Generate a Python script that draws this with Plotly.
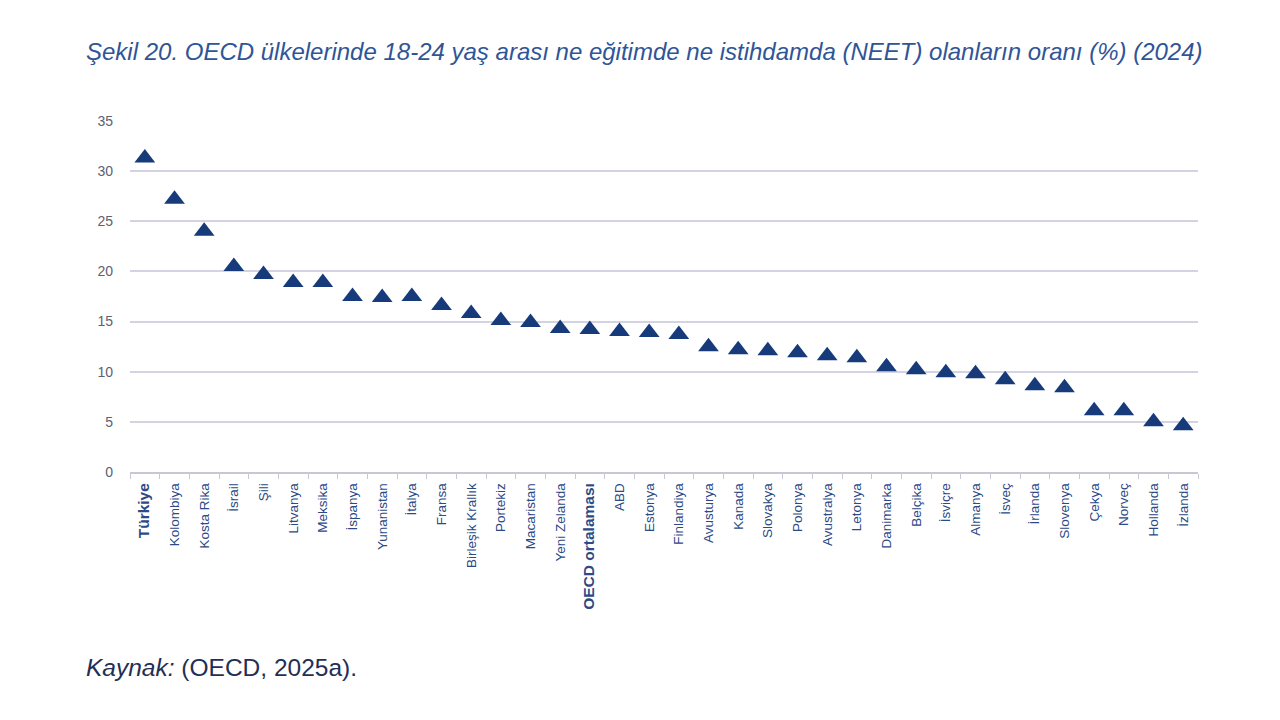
import plotly.graph_objects as go

countries = ["Türkiye", "Kolombiya", "Kosta Rika", "İsrail", "Şili", "Litvanya", "Meksika",
             "İspanya", "Yunanistan", "İtalya", "Fransa", "Birleşik Krallık", "Portekiz",
             "Macaristan", "Yeni Zelanda", "OECD ortalaması", "ABD", "Estonya", "Finlandiya",
             "Avusturya", "Kanada", "Slovakya", "Polonya", "Avustralya", "Letonya", "Danimarka",
             "Belçika", "İsviçre", "Almanya", "İsveç", "İrlanda", "Slovenya", "Çekya", "Norveç",
             "Hollanda", "İzlanda"]
neet = [31.3, 27.2, 24.0, 20.5, 19.7, 18.9, 18.9,
        17.5, 17.4, 17.5, 16.6, 15.8, 15.1,
        14.9, 14.3, 14.2, 14.0, 13.9, 13.7,
        12.5, 12.2, 12.1, 11.9, 11.6, 11.4, 10.5,
        10.2, 9.9, 9.8, 9.2, 8.6, 8.4, 6.1, 6.1,
        5.0, 4.6]
bold_labels = ["Türkiye", "OECD ortalaması"]
y_ticks = [0, 5, 10, 15, 20, 25, 30, 35]

tick_text = [f"<span style='font-size:15.5px'><b>{c}</b></span>" if c in bold_labels else c
             for c in countries]

fig = go.Figure()
fig.add_trace(go.Scatter(
    x=countries, y=neet, mode="markers",
    marker=dict(symbol="triangle-up", size=18, color="#173b7a"),
    showlegend=False, hoverinfo="x+y",
))

label_font = "Liberation Sans, Arial, sans-serif"

fig.update_layout(
    width=1280, height=720,
    paper_bgcolor="white", plot_bgcolor="white",
    margin=dict(l=122, r=90, t=113, b=256),
    font=dict(family="Liberation Sans, Arial, sans-serif"),
    xaxis=dict(
        type="category",
        tickmode="array", tickvals=countries, ticktext=tick_text,
        tickangle=-90,
        tickfont=dict(family=label_font, size=13.5, color="#2b4a86"),
        showline=True, linecolor="#c8c8d4", linewidth=1.5,
        ticks="outside", tickson="boundaries", ticklen=5, tickcolor="#c8c8d4",
        showgrid=False, zeroline=False, ticklabelstandoff=4,
        range=[-0.5, len(countries) - 0.5],
    ),
    yaxis=dict(
        range=[0, 35], tickmode="array", tickvals=y_ticks,
        tickfont=dict(family=label_font, size=14, color="#5a6273"),
        showgrid=True, gridcolor="#d3d3e3", gridwidth=1.5,
        zeroline=False, showline=False, ticks="", ticklabelstandoff=16,
    ),
    annotations=[
        dict(text="<i>Şekil 20. OECD ülkelerinde 18-24 yaş arası ne eğitimde ne istihdamda (NEET) olanların oranı (%) (2024)</i>",
             xref="paper", yref="paper", x=0, y=1, xanchor="left", yanchor="middle",
             xshift=-46, yshift=70, showarrow=False,
             font=dict(family="Liberation Sans, Arial, sans-serif", size=24, color="#2f5597")),
        dict(text="<i>Kaynak:</i> (OECD, 2025a).",
             xref="paper", yref="paper", x=0, y=0, xanchor="left", yanchor="middle",
             xshift=-46, yshift=-195, showarrow=False,
             font=dict(family="Liberation Sans, Arial, sans-serif", size=24.5, color="#1f2f55")),
    ],
)

fig.write_html("out.html")
